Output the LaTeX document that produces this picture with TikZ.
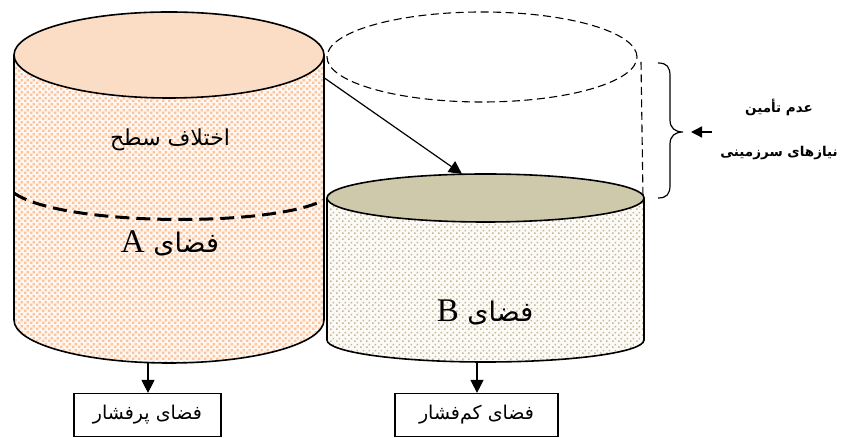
\documentclass[tikz,border=0pt]{standalone}
\usepackage{fontspec}
\setmainfont{Liberation Serif}
\newfontfamily\arabicfont[Script=Arabic]{DejaVu Sans}
\TeXXeTstate=1
\usetikzlibrary{arrows.meta,patterns.meta}

\definecolor{peachtop}{HTML}{FBDCC5}
\definecolor{peachdot}{HTML}{FBC49C}
\definecolor{peachbg}{HTML}{FFF6F0}
\definecolor{tantop}{HTML}{CFC9AC}
\definecolor{tandot}{HTML}{C4B790}
\definecolor{tanbg}{HTML}{FBFAF6}

% staggered square dots for the tall cylinder
\tikzdeclarepattern{
  name=squaredots,
  type=uncolored,
  bottom left={(0pt,0pt)},
  top right={(6pt,6pt)},
  tile size={(6pt,6pt)},
  code={
    \fill (0pt,0pt) rectangle (2.8pt,2.8pt);
    \fill (3pt,3pt) rectangle (5.8pt,5.8pt);
  }
}
% finer dots for the short cylinder
\tikzdeclarepattern{
  name=finedots,
  type=uncolored,
  bottom left={(0pt,0pt)},
  top right={(6pt,6pt)},
  tile size={(6pt,6pt)},
  code={
    \fill (0pt,0pt) rectangle (1.9pt,1.9pt);
    \fill (3pt,3pt) rectangle (4.9pt,4.9pt);
  }
}

\begin{document}
\begin{tikzpicture}[x=1pt,y=1pt,
  outline/.style={draw=black, line width=1.6pt},
  ghost/.style={draw=black, line width=1.1pt, dash pattern=on 8pt off 4.5pt},
  link/.style={draw=black, line width=1.2pt, -{Triangle[length=13pt,width=13pt]}},
  label/.style={font=\arabicfont\fontsize{22}{26}\selectfont, inner sep=0pt},
  biglabel/.style={font=\arabicfont\fontsize{27}{30}\selectfont, inner sep=0pt},
  notelabel/.style={font=\arabicfont\bfseries\fontsize{13.5}{16}\selectfont, inner sep=0pt},
  outbox/.style={draw=black, line width=1.2pt, minimum width=147pt, minimum height=43pt, inner sep=0pt,
                 font=\arabicfont\fontsize{19}{22}\selectfont}]
\useasboundingbox (0,0) rectangle (842,438);

% ---- dashed (missing) volume above the short cylinder
\draw[ghost] (482,381) ellipse[x radius=155pt, y radius=45pt];
\draw[ghost] (641,376) -- (643,240);

% ---- short cylinder (B)
\path[preaction={fill=tanbg}, pattern=finedots, pattern color=tandot]
  (327,240) -- (327,98) arc[start angle=180, end angle=360, x radius=158.5pt, y radius=22pt]
  -- (644,240) -- cycle;
\draw[outline] (327,240) -- (327,98) arc[start angle=180, end angle=360, x radius=158.5pt, y radius=22pt]
  -- (644,240);
\draw[outline, fill=tantop] (485.5,240) ellipse[x radius=158.5pt, y radius=24pt];
\coordinate (Btop) at (462,264);
\coordinate (Bbase) at (477,76);

% ---- tall cylinder (A)
\path[preaction={fill=peachbg}, pattern=squaredots, pattern color=peachdot]
  (14,383) -- (14,118) arc[start angle=180, end angle=360, x radius=155pt, y radius=43pt]
  -- (324,383) -- cycle;
\draw[outline] (14,383) -- (14,118) arc[start angle=180, end angle=360, x radius=155pt, y radius=43pt]
  -- (324,383);
\draw[outline, fill=peachtop] (169,383) ellipse[x radius=155pt, y radius=43pt];
\coordinate (Aedge) at (323,361);
\coordinate (Abase) at (148,75);

% level of the short cylinder marked on the tall one
\draw[line width=3pt, dash pattern=on 14pt off 7pt]
  (14,245) .. controls (60,212) and (270,210) .. (324,238);

% ---- labels inside the cylinders
\node[label] (diff) at (170,298) {\beginR اختلاف سطح\endR};
\node[biglabel] (spA) at (170,195) {\beginR فضای \beginL{\rmfamily\fontsize{33}{35}\selectfont A}\endL\endR};
\node[biglabel] (spB) at (485,126) {\beginR فضای \beginL{\rmfamily\fontsize{33}{35}\selectfont B}\endL\endR};

% level drop arrow
\draw[link] (Aedge) -- (Btop);

% ---- brace with note
\draw[line width=1.2pt]
  (658,375) .. controls (667,375) and (670,371) .. (670,362) -- (670,318)
  .. controls (670,310) and (675,306) .. (683,306)
  .. controls (675,306) and (670,302) .. (670,294) -- (670,253)
  .. controls (670,244) and (667,240) .. (658,240);
\coordinate (bracetip) at (691,306);
\coordinate (notearrow) at (712,306);
\node[notelabel, align=center] (note) at (779,309)
  {\beginR عدم تأمین\endR\\[28pt]\beginR نیازهای سرزمینی\endR};
\draw[link, line width=1.4pt, -{Triangle[length=11pt,width=11pt]}] (notearrow) -- (bracetip);

% ---- outputs
\node[outbox] (high) at (147.5,23) {\beginR فضای پرفشار\endR};
\node[outbox, minimum width=163pt] (low) at (476.5,23) {\beginR فضای کم^^^^200cفشار\endR};
\draw[link] (Abase) -- (high.north -| Abase);
\draw[link] (Bbase) -- (low.north -| Bbase);
\end{tikzpicture}
\end{document}
